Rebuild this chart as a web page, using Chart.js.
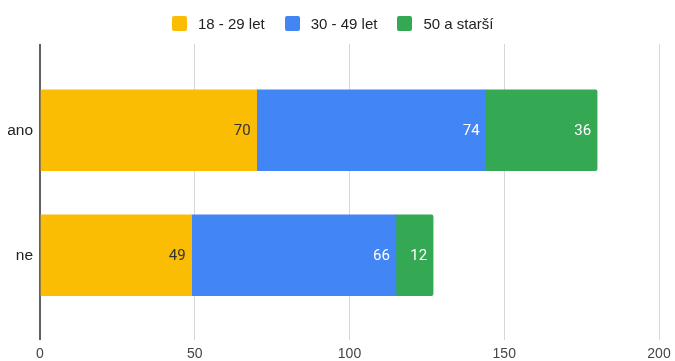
<!DOCTYPE html>
<html>
<head>
<meta charset="utf-8">
<script src="https://cdn.jsdelivr.net/npm/chart.js@4.4.0/dist/chart.umd.min.js"></script>
<style>
  html, body { margin: 0; padding: 0; background: #fff; }
  #wrap { position: relative; width: 675px; height: 361px; }
  #legend { position: absolute; left: 172px; top: 16px; height: 15px; display: flex; align-items: center;
            font-family: "Liberation Sans", Arial, sans-serif; font-size: 15px; color: #222; white-space: nowrap; }
  .item { display: flex; align-items: center; margin-right: 20px; }
  .box { width: 15px; height: 15px; border-radius: 2px; margin-right: 11px; }
</style>
</head>
<body>
<div id="wrap">
  <canvas id="c" width="675" height="361"></canvas>
  <div id="legend"></div>
</div>
<script>
const categories = ['ano', 'ne'];
const seriesNames = ['18 - 29 let', '30 - 49 let', '50 a starší'];
const young = [70, 49];
const middle = [74, 66];
const older = [36, 12];
const xTicks = [0, 50, 100, 150, 200];

const colors = ['#fbbc04', '#4285f4', '#34a853'];
const labelColors = ['#333333', '#ffffff', '#ffffff'];
const seriesValues = [young, middle, older];

const datasets = seriesValues.map((vals, s) => ({
  label: seriesNames[s],
  data: vals.map((v, i) => ({ x: v, y: i })),
  backgroundColor: colors[s],
  borderWidth: 0,
  barThickness: 81,
  borderRadius: s === 2 ? 2 : 0,
  borderSkipped: s === 2 ? 'start' : true
}));

// HTML legend
const legend = document.getElementById('legend');
seriesNames.forEach((n, s) => {
  const it = document.createElement('div'); it.className = 'item';
  const b = document.createElement('div'); b.className = 'box'; b.style.background = colors[s];
  const t = document.createElement('span'); t.textContent = n;
  it.appendChild(b); it.appendChild(t); legend.appendChild(it);
});

const valueLabels = {
  id: 'valueLabels',
  afterDatasetsDraw(chart) {
    const ctx = chart.ctx;
    ctx.save();
    ctx.font = '15px Roboto, "Liberation Sans", sans-serif';
    ctx.textAlign = 'right';
    ctx.textBaseline = 'middle';
    chart.data.datasets.forEach((ds, s) => {
      chart.getDatasetMeta(s).data.forEach((el, i) => {
        ctx.fillStyle = labelColors[s];
        ctx.fillText(String(seriesValues[s][i]), el.x - 6, el.y + 1);
      });
    });
    ctx.restore();
  }
};

new Chart(document.getElementById('c'), {
  type: 'bar',
  data: { datasets },
  options: {
    responsive: false,
    animation: false,
    indexAxis: 'y',
    layout: { padding: { left: 0, right: 16, top: 44, bottom: 0 } },
    plugins: { legend: { display: false }, tooltip: { enabled: false }, title: { display: false } },
    scales: {
      x: {
        type: 'linear', stacked: true, min: 0, max: 200,
        afterBuildTicks: sc => { sc.ticks = xTicks.map(v => ({ value: v })); },
        afterFit: sc => { sc.height = 21; sc.paddingLeft = 0; sc.paddingRight = 0; },
        border: { display: false },
        grid: {
          drawTicks: false,
          color: c => c.tick && c.tick.value === 0 ? '#616161' : '#d6d6d6',
          lineWidth: c => c.tick && c.tick.value === 0 ? 2 : 1
        },
        ticks: { padding: 6, color: '#444', font: { family: '"Liberation Sans", Arial, sans-serif', size: 14 } }
      },
      y: {
        type: 'linear', stacked: true, min: -0.69, max: 1.678, reverse: true, offset: false,
        afterBuildTicks: sc => { sc.ticks = categories.map((_, i) => ({ value: i })); },
        afterFit: sc => { sc.width = 40; },
        border: { display: false },
        grid: { display: false, drawTicks: false, offset: false },
        ticks: {
          padding: 7, color: '#222',
          font: { family: '"Liberation Sans", Arial, sans-serif', size: 15.5 },
          callback: v => categories[v]
        }
      }
    }
  },
  plugins: [valueLabels]
});
</script>
</body>
</html>
